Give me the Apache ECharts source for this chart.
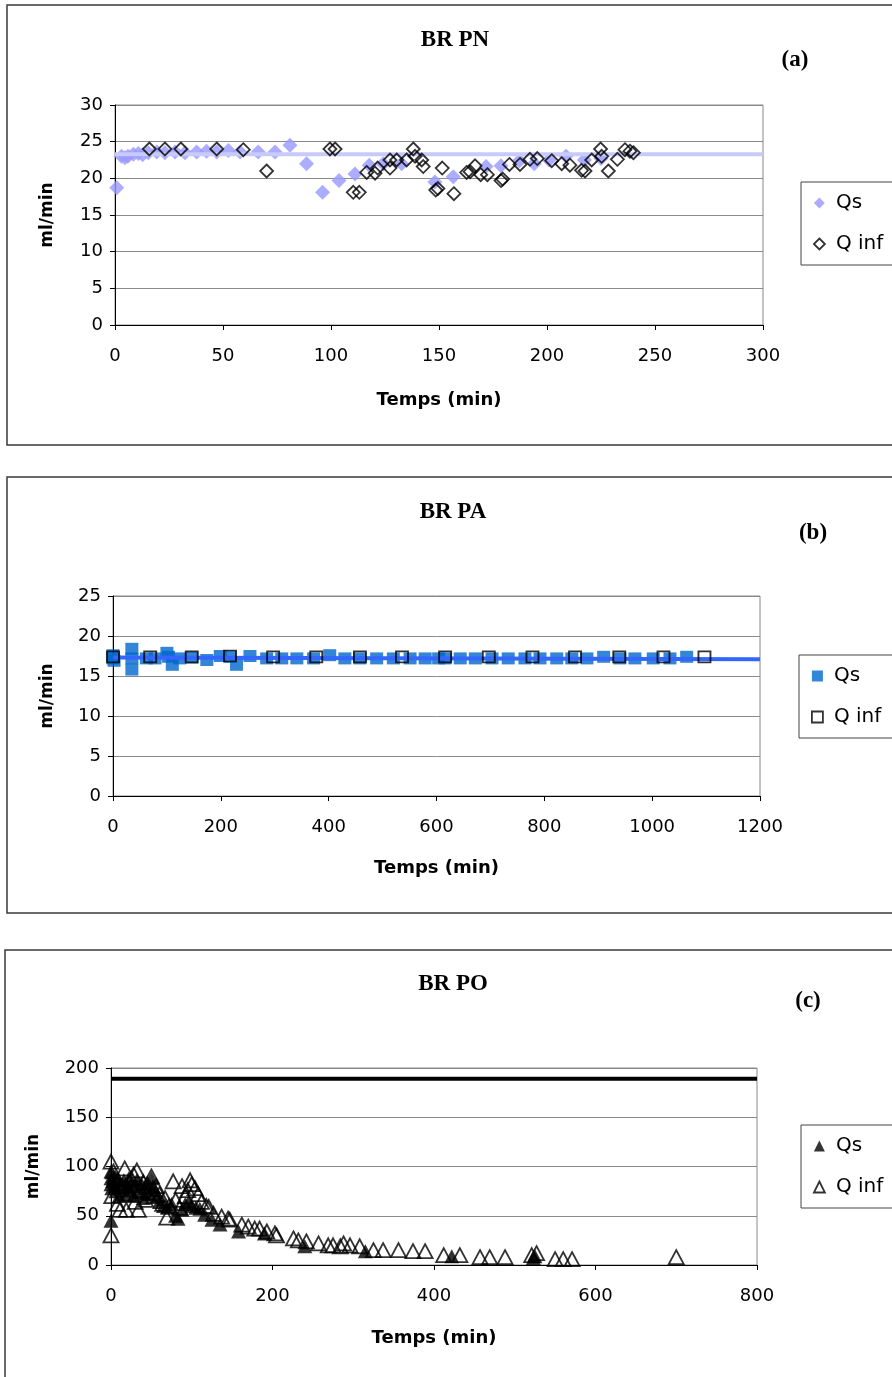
<!DOCTYPE html>
<html><head><meta charset="utf-8">
<script src="https://cdn.jsdelivr.net/npm/echarts@6/dist/echarts.min.js"></script>
<style>html,body{margin:0;padding:0;background:#fff}#c{width:892px;height:1377px}</style>
</head><body><div id="c"></div>
<script>
const titles = ['BR PN', 'BR PA', 'BR PO'];
const panelTags = ['(a)', '(b)', '(c)'];
const yName = 'ml/min';
const xName = 'Temps (min)';

// Panel (a) BR PN
const aQs = [[0.8,18.7],[3,23.0],[4.6,22.8],[6,23.0],[8.5,23.3],[10.8,23.4],[12.8,23.2],[15.4,23.5],[19.3,23.6],[23.1,23.5],[27.8,23.6],[32.4,23.5],[37.8,23.6],[42.4,23.7],[47.1,23.6],[52.5,23.8],[57.9,23.6],[66.3,23.6],[74.1,23.6],[81,24.5],[88.7,22.0],[96.1,18.1],[103.7,19.7],[111.1,20.6],[117.7,21.8],[124.2,22.0],[132.7,22.0],[148.1,19.5],[156.6,20.2],[171.8,21.6],[178.7,21.7],[187.2,22.4],[194.1,22.0],[201,22.5],[208.8,23.0],[217.3,22.5],[225,22.7]];
const aQinf = [[15.9,24.0],[23.1,24.0],[30.5,24.0],[47.1,24.0],[59.4,23.9],[70.2,21.0],[99.5,24.0],[101.9,24.0],[110.3,18.1],[113.1,18.1],[116.5,20.8],[120.4,20.7],[121.6,21.4],[127.3,21.4],[127.3,22.5],[130.4,22.5],[135,22.5],[138.1,24.0],[138.9,23.0],[142,22.5],[142.7,21.6],[148.5,18.4],[149.5,18.6],[151.5,21.4],[156.9,17.9],[162.8,20.8],[164.4,20.9],[166.7,21.7],[169.3,20.5],[172.4,20.5],[178.7,19.7],[179.5,19.9],[182.6,21.9],[187.5,21.9],[192.1,22.6],[195.5,22.7],[202.2,22.4],[206.8,22.0],[210.6,21.8],[216,21.1],[217.6,21.0],[220.7,22.5],[224.8,24.0],[225.3,23.0],[228.4,21.0],[232.6,22.6],[236.1,23.9],[238.4,23.7],[240,23.5]];
const aFit = [[0,23.3],[300,23.3]];

// Panel (b) BR PA
const bQs = [[0,17.2],[0,17.6],[2,16.9],[35,18.4],[35,17.2],[35,15.8],[62,17.2],[78,17.2],[100,17.9],[103,17.4],[110,16.4],[124,17.2],[146,17.3],[174,17.0],[199,17.5],[217,17.4],[229,16.4],[254,17.5],[285,17.2],[313,17.2],[341,17.2],[372,17.2],[402,17.6],[430,17.2],[458,17.2],[489,17.2],[520,17.2],[551,17.2],[579,17.2],[604,17.2],[616,17.2],[644,17.2],[672,17.2],[703,17.2],[733,17.2],[764,17.2],[792,17.2],[823,17.2],[851,17.2],[879,17.2],[910,17.4],[940,17.2],[968,17.2],[1002,17.2],[1033,17.2],[1064,17.4]];
const bQinf = [[0,17.4],[69,17.4],[146,17.4],[217,17.5],[297,17.4],[377,17.4],[458,17.4],[536,17.4],[616,17.4],[697,17.4],[778,17.4],[857,17.4],[939,17.4],[1021,17.4],[1097,17.4]];
const bFit = [[0,17.3],[1200,17.1]];

// Panel (c) BR PO
const cQs = [[0,45],[0,95],[0,88],[0,82],[1,78],[2,85],[3,90],[5,80],[6,75],[8,88],[10,70],[12,82],[14,78],[16,86],[18,72],[20,80],[22,88],[24,76],[26,84],[28,70],[30,80],[32,86],[35,74],[38,82],[40,68],[42,78],[45,84],[48,72],[50,88],[52,80],[55,76],[58,70],[60,64],[65,60],[70,58],[75,62],[80,50],[83,47],[88,56],[92,62],[96,64],[100,60],[105,58],[110,57],[116,51],[125,46],[135,41],[158,34],[190,32],[240,19],[315,14],[422,9],[523,7],[525,9]];
const cQinf = [[0,105],[0,30],[1,70],[3,95],[5,88],[8,62],[11,56],[14,80],[17,98],[19,56],[22,72],[25,88],[28,92],[30,64],[32,96],[34,56],[36,76],[40,84],[43,66],[46,74],[50,90],[53,70],[56,80],[60,72],[64,62],[67,68],[69,48],[72,60],[77,85],[80,66],[85,58],[88,80],[92,70],[95,76],[98,86],[100,82],[104,78],[108,72],[112,64],[118,60],[121,59],[127,52],[137,49],[145,47],[147,46],[162,41],[170,39],[178,37],[184,37],[193,34],[203,32],[205,30],[226,27],[232,25],[242,24],[257,22],[269,20],[275,20],[284,19],[288,22],[296,20],[308,19],[325,15],[337,15],[356,15],[374,14],[389,14],[412,10],[432,10],[457,8],[469,8],[488,8],[521,10],[527,12],[550,6],[560,6],[571,6],[700,8]];
const cFit = [[0,189],[800,189]];

const FONT = 'DejaVu Sans';
function xAx(gi, max, interval, nameGap) {
  return {type:'value', gridIndex:gi, min:0, max:max, interval:interval,
    name:xName, nameLocation:'middle', nameGap:nameGap,
    nameTextStyle:{fontFamily:FONT, fontWeight:'bold', fontSize:18, color:'#000'},
    axisLine:{show:true, onZero:false, lineStyle:{color:'#000', width:1}},
    axisTick:{show:true, length:5, lineStyle:{color:'#000'}},
    axisLabel:{fontFamily:FONT, fontSize:18, color:'#000', margin:22, formatter: v => String(v)},
    splitLine:{show:false}};
}
function yAx(gi, max, interval, nameGap) {
  return {type:'value', gridIndex:gi, min:0, max:max, interval:interval,
    name:yName, nameLocation:'middle', nameGap:nameGap, nameRotate:90,
    nameTextStyle:{fontFamily:FONT, fontWeight:'bold', fontSize:17, color:'#000'},
    axisLine:{show:true, onZero:false, lineStyle:{color:'#000', width:1}},
    axisTick:{show:true, length:5, lineStyle:{color:'#000'}},
    axisLabel:{fontFamily:FONT, fontSize:18, color:'#000', margin:12, formatter: v => String(v)},
    splitLine:{show:true, lineStyle:{color:'#8a8a8a', width:1}}};
}
function legendFor(tag, left, top, icon, qsStyle, qinfStyle) {
  return {left:left, top:top, orient:'vertical', selectedMode:false,
    data:[{name:'Qs '+tag, icon:icon, itemStyle:qsStyle}, {name:'Q inf '+tag, icon:icon, itemStyle:qinfStyle}],
    formatter: n => n.replace(/ \(.\)$/, ''),
    itemWidth:11, itemHeight:11, itemGap:19, padding:[10,40,10,12],
    borderColor:'#444', borderWidth:1, backgroundColor:'#fff',
    textStyle:{fontFamily:FONT, fontSize:20, color:'#000', lineHeight:22, padding:[0,0,0,6]}};
}
const openStyle = {color:'rgba(255,255,255,0)', borderColor:'#000', borderWidth:1.8};

const titleFont = 'bold 23px "Liberation Serif"';
const tagFont = 'bold 23px "Liberation Serif"';
function txt(t, x, y, font) {
  return {type:'text', x:x, y:y, z:100, style:{text:t, font:font, fill:'#000', textAlign:'center', verticalAlign:'middle', textVerticalAlign:'middle'}};
}
function box(x, y, w, h) {
  return {type:'rect', z:-10, shape:{x:x, y:y, width:w, height:h}, style:{fill:'rgba(0,0,0,0)', stroke:'#3a3a3a', lineWidth:1.5}};
}

const chart = echarts.init(document.getElementById('c'), null, {renderer:'canvas'});
chart.setOption({
  backgroundColor:'#fff',
  animation:false,
  graphic:[
    box(7,5,920,440), box(7,477,920,436), box(5,950,920,460),
    txt(titles[0],455,40,titleFont), txt(panelTags[0],795,60,tagFont),
    txt(titles[1],453,512,titleFont), txt(panelTags[1],813,533,tagFont),
    txt(titles[2],453,984,titleFont), txt(panelTags[2],808,1001,tagFont)
  ],
  grid:[
    {left:115, top:105, width:648, height:220, show:true, borderColor:'#888', borderWidth:1, backgroundColor:'#fff'},
    {left:113, top:596, width:647, height:200, show:true, borderColor:'#888', borderWidth:1, backgroundColor:'#fff'},
    {left:111, top:1068, width:646, height:197, show:true, borderColor:'#888', borderWidth:1, backgroundColor:'#fff'}
  ],
  xAxis:[xAx(0,300,50,66), xAx(1,1200,200,63), xAx(2,800,200,64)],
  yAxis:[yAx(0,30,5,59), yAx(1,25,5,57), yAx(2,200,50,69)],
  legend:[
    legendFor('(a)',801,182,'diamond',{color:'#9999ff'},openStyle),
    legendFor('(b)',799,655,'rect',{color:'#0066cc'},openStyle),
    legendFor('(c)',801,1125,'triangle',{color:'#000'},openStyle)
  ],
  series:[
    {type:'scatter', name:'Qs (a)', xAxisIndex:0, yAxisIndex:0, data:aQs, symbol:'diamond', symbolSize:15, itemStyle:{color:'#9999ff'}, z:2},
    {type:'line', name:'fit (a)', xAxisIndex:0, yAxisIndex:0, data:aFit, symbol:'none', lineStyle:{color:'#c8cbfa', width:4}, z:3, silent:true},
    {type:'scatter', name:'Q inf (a)', xAxisIndex:0, yAxisIndex:0, data:aQinf, symbol:'diamond', symbolSize:13, itemStyle:openStyle, z:4},

    {type:'scatter', name:'Qs (b)', xAxisIndex:1, yAxisIndex:1, data:bQs, symbol:'rect', symbolSize:[13,12], itemStyle:{color:'#0066cc'}, z:2},
    {type:'line', name:'fit (b)', xAxisIndex:1, yAxisIndex:1, data:bFit, symbol:'none', lineStyle:{color:'#3366ff', width:4}, z:3, silent:true},
    {type:'scatter', name:'Q inf (b)', xAxisIndex:1, yAxisIndex:1, data:bQinf, symbol:'rect', symbolSize:[12,11], itemStyle:openStyle, z:4},

    {type:'scatter', name:'Qs (c)', xAxisIndex:2, yAxisIndex:2, data:cQs, symbol:'triangle', symbolSize:[15,14], itemStyle:{color:'#000'}, z:2},
    {type:'line', name:'fit (c)', xAxisIndex:2, yAxisIndex:2, data:cFit, symbol:'none', lineStyle:{color:'#000', width:4}, z:3, silent:true},
    {type:'scatter', name:'Q inf (c)', xAxisIndex:2, yAxisIndex:2, data:cQinf, symbol:'triangle', symbolSize:[15,14], itemStyle:openStyle, z:4}
  ]
});
</script>
</body></html>
